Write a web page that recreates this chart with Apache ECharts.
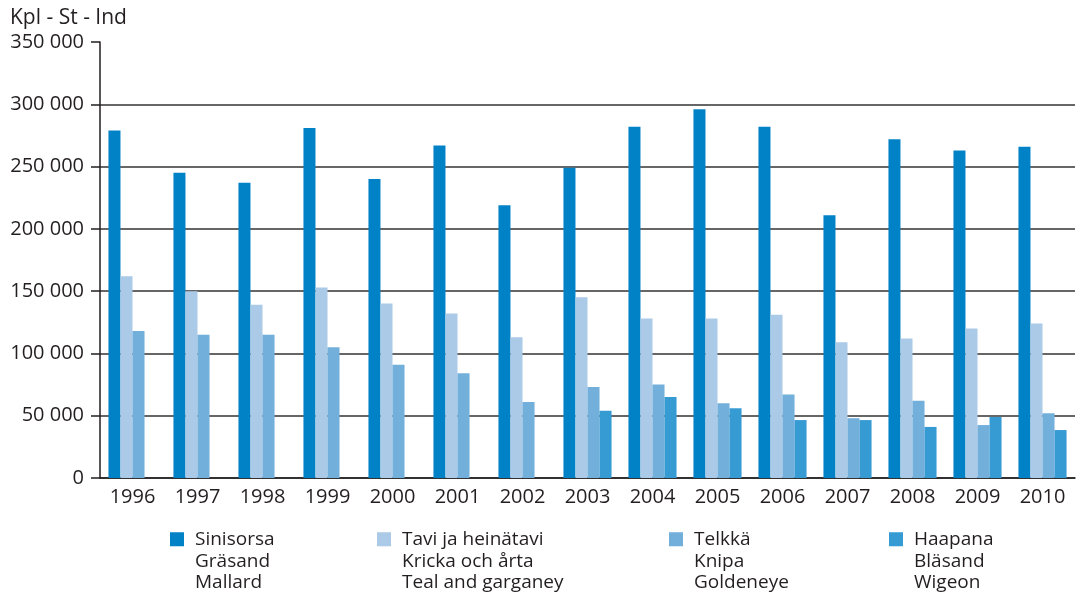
<!DOCTYPE html>
<html>
<head>
<meta charset="utf-8">
<script src="https://cdn.jsdelivr.net/npm/echarts@6/dist/echarts.min.js"></script>
<style>
	html, body { margin: 0; padding: 0; background: #fff; }
	#chart { width: 1081px; height: 594px; }
</style>
</head>
<body>
<div id="chart"></div>
<script>
YEARS = ['1996','1997','1998','1999','2000','2001','2002','2003','2004','2005','2006','2007','2008','2009','2010'];
NAMES = ['Sinisorsa\nGräsand\nMallard', 'Tavi ja heinätavi\nKricka och årta\nTeal and garganey', 'Telkkä\nKnipa\nGoldeneye', 'Haapana\nBläsand\nWigeon'];
COLORS = ['#0282c6', '#aacae8', '#72afdb', '#379bd3'];
MALLARD = [279000, 245000, 237000, 281000, 240000, 267000, 219000, 249000, 282000, 296000, 282000, 211000, 272000, 263000, 266000];
TEAL = [162000, 150000, 139000, 153000, 140000, 132000, 113000, 145000, 128000, 128000, 131000, 109000, 112000, 120000, 124000];
GOLDENEYE = [118000, 115000, 115000, 105000, 91000, 84000, 61000, 73000, 75000, 60000, 67000, 48000, 62000, 42500, 52000];
WIGEON = [null, null, null, null, null, null, null, 54000, 65000, 56000, 46500, 46500, 41000, 49000, 38500];
LEGEND_X = [170, 377, 669, 889];

var FONT = '"Open Sans", sans-serif';
var TEXT = '#231f20';

// square in the top-left corner of a taller, wider box, so the swatch sits beside the first line
var ICON = 'path://M0,0h14v14h-14Z M19.9,57.9h0.1v0.1h-0.1Z';

function makeLegend(i) {
	return {
		left: LEGEND_X[i],
		top: 529,
		padding: 0,
		orient: 'vertical',
		itemWidth: 20,
		itemHeight: 58,
		itemGap: 0,
		selectedMode: false,
		data: [{ name: NAMES[i], icon: ICON }],
		textStyle: {
			fontFamily: FONT,
			fontSize: 19,
			color: TEXT,
			lineHeight: 21.5,
			align: 'left'
		}
	};
}

var allData = [MALLARD, TEAL, GOLDENEYE, WIGEON];
var series = [];
for (var i = 0; i < 4; i++) {
	series.push({
		name: NAMES[i],
		type: 'bar',
		data: allData[i],
		barGap: '0%',
		barCategoryGap: '26%',
		itemStyle: { color: COLORS[i] }
	});
}

var myChart = echarts.init(document.getElementById('chart'));
myChart.setOption({
	animation: false,
	title: {
		text: 'Kpl - St - Ind',
		left: 5,
		top: 3,
		textStyle: { fontFamily: FONT, fontSize: 21, fontWeight: 'normal', color: TEXT }
	},
	legend: [makeLegend(0), makeLegend(1), makeLegend(2), makeLegend(3)],
	grid: { left: 100, right: 6, top: 42, bottom: 116, containLabel: false },
	xAxis: {
		type: 'category',
		data: YEARS,
		boundaryGap: true,
		axisLine: { lineStyle: { color: '#231f20', width: 1.5 } },
		axisTick: { length: 9, lineStyle: { color: '#231f20', width: 1.5 } },
		axisLabel: { fontFamily: FONT, fontSize: 20, color: TEXT, margin: 9 }
	},
	yAxis: {
		type: 'value',
		min: 0,
		max: 350000,
		interval: 50000,
		axisLine: { show: true, lineStyle: { color: '#231f20', width: 1.5 } },
		axisTick: { show: true, length: 9, lineStyle: { color: '#231f20', width: 1.5 } },
		axisLabel: {
			fontFamily: FONT, fontSize: 20, color: TEXT, margin: 16,
			formatter: function(v) {
				return v == 0 ? '0' : String(v).replace(/(\d)(?=(\d{3})+$)/g, '$1 ');
			}
		},
		splitLine: {
			show: true,
			lineStyle: { color: ['#333', '#333', '#333', '#333', '#333', '#333', '#333', 'rgba(0,0,0,0)'], width: 1.5 }
		}
	},
	series: series
});
</script>
</body>
</html>
